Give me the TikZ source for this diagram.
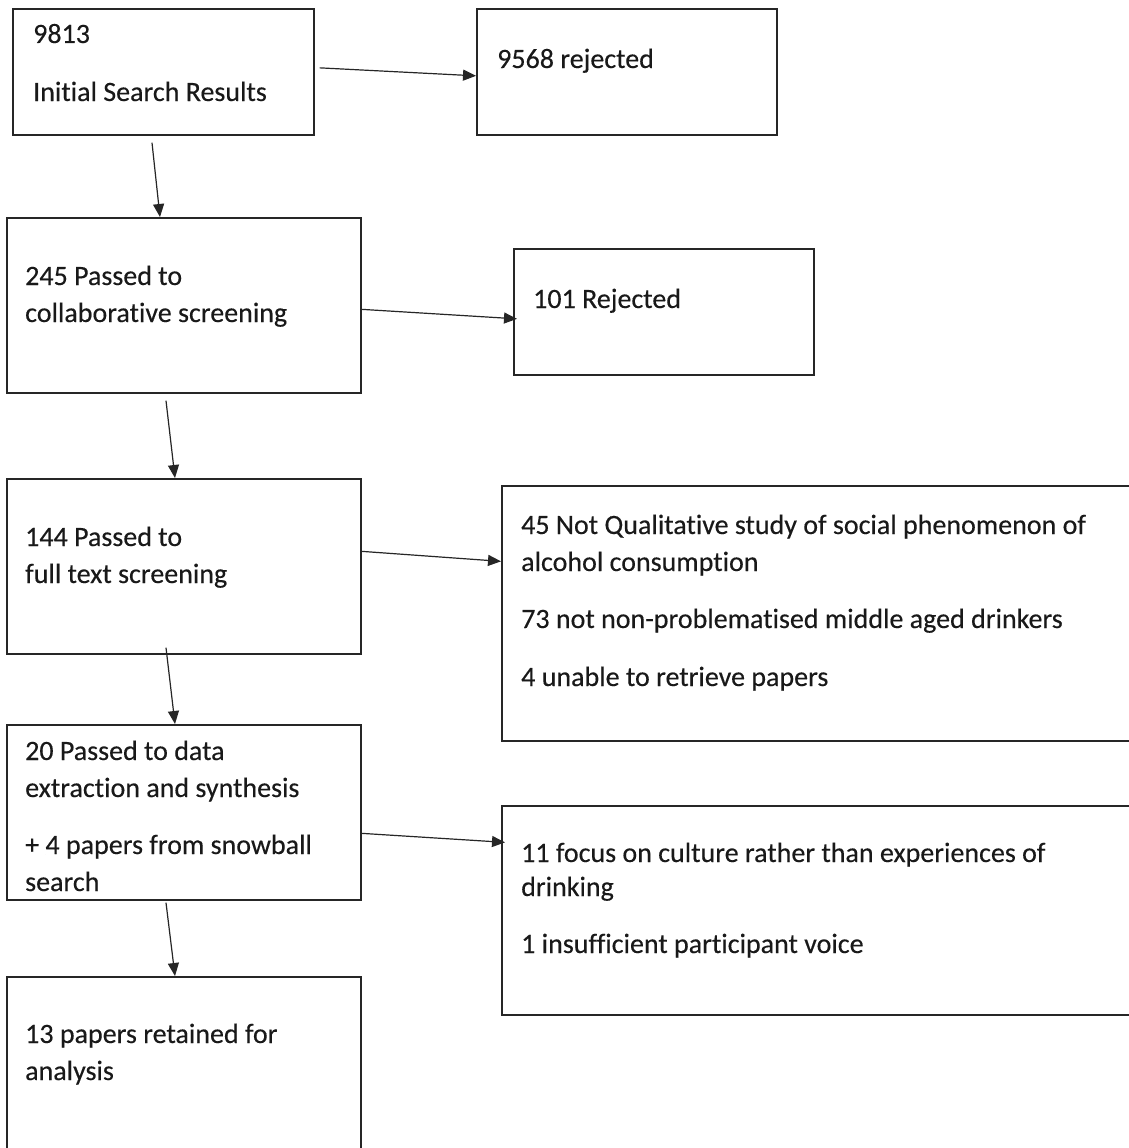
\documentclass[tikz,border=0pt]{standalone}
\usepackage{fontspec}
\setmainfont{Carlito}[Ligatures={NoCommon,NoRare,NoContextual},FakeBold=0.3]
\usetikzlibrary{arrows.meta,calc}
\begin{document}
\begin{tikzpicture}[x=1pt,y=-1pt,
  box/.style={draw=black!85,line width=1.7pt,inner sep=0pt,anchor=north west},
  txt/.style={anchor=base west,inner sep=0pt,font=\fontsize{28}{37}\selectfont,text=black!90},
  arr/.style={draw=black!85,line width=1.2pt,-{Triangle[length=13pt,width=11pt]}}]
\clip (0,0) rectangle (1129,1148);
\fill[white] (0,0) rectangle (1129,1148);
% boxes
\node[box,minimum width=301pt,minimum height=126pt] (A) at (12,8) {};
\node[box,minimum width=300pt,minimum height=126pt] (B) at (476,8) {};
\node[box,minimum width=354pt,minimum height=175pt] (C) at (6,217) {};
\node[box,minimum width=300pt,minimum height=126pt] (D) at (513,248) {};
\node[box,minimum width=354pt,minimum height=175pt] (E) at (6,478) {};
\node[box,minimum width=640pt,minimum height=255pt] (F) at (501,485) {};
\node[box,minimum width=354pt,minimum height=175pt] (G) at (6,724) {};
\node[box,minimum width=640pt,minimum height=209pt] (H) at (501,805) {};
\node[box,minimum width=354pt,minimum height=185pt] (I) at (6,976) {};
% texts
\node[txt] (a1) at (33,43) {9813};
\node[txt] (a2) at (33,101) {Initial Search Results};
\node[txt] (b1) at (497,68) {9568 rejected};
\node[txt] (c1) at (25,285) {245 Passed to};
\node[txt] (c2) at (25,322) {collaborative screening};
\node[txt] (d1) at (533,308) {101 Rejected};
\node[txt] (e1) at (25,546) {144 Passed to};
\node[txt] (e2) at (25,583) {full text screening};
\node[txt] (f1) at (521,534) {45 Not Qualitative study of social phenomenon of};
\node[txt] (f2) at (521,571) {alcohol consumption};
\node[txt] (f3) at (521,628) {73 not non-problematised middle aged drinkers};
\node[txt] (f4) at (521,686) {4 unable to retrieve papers};
\node[txt] (g1) at (25,760) {20 Passed to data};
\node[txt] (g2) at (25,797) {extraction and synthesis};
\node[txt] (g3) at (25,854) {+ 4 papers from snowball};
\node[txt] (g4) at (25,891) {search};
\node[txt] (h1) at (521,862) {11 focus on culture rather than experiences of};
\node[txt] (h2) at (521,896) {drinking};
\node[txt] (h3) at (521,953) {1 insufficient participant voice};
\node[txt] (i1) at (25,1043) {13 papers retained for};
\node[txt] (i2) at (25,1080) {analysis};
% connectors
\draw[arr] ($(A.east)+(5,-4)$) -- ($(B.west)+(0,4)$);
\draw[arr] ($(A.south west)+(140,7)$) -- ($(C.north west)+(154,0)$);
\draw[arr] ($(C.east)+(0,4)$) -- ($(D.west)+(4,7)$);
\draw[arr] ($(C.south west)+(160,7)$) -- ($(E.north west)+(169,0)$);
\draw[arr] ($(E.east)+(0,-15)$) -- ($(F.west)+(0,-52)$);
\draw[arr] ($(E.south west)+(160,-7)$) -- ($(G.north west)+(169,0)$);
\draw[arr] ($(G.east)+(0,21)$) -- ($(H.west)+(4,-68)$);
\draw[arr] ($(G.south west)+(160,2)$) -- ($(I.north west)+(169,0)$);
\end{tikzpicture}
\end{document}
